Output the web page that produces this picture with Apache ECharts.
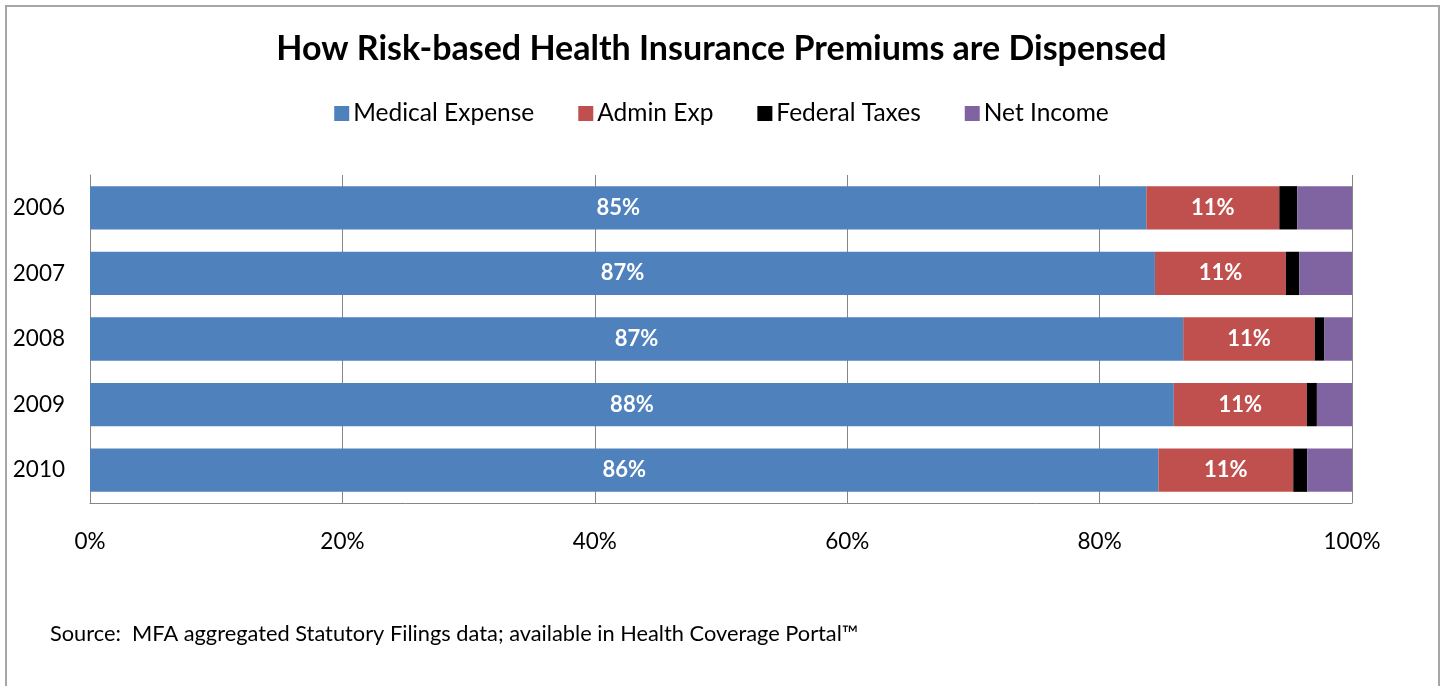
<!DOCTYPE html>
<html>
<head>
<meta charset="utf-8">
<script src="https://cdn.jsdelivr.net/npm/echarts@6/dist/echarts.min.js"></script>
<style>
  html, body { margin: 0; padding: 0; background: #fff; }
  #frame { position: absolute; left: 5px; top: 5px; width: 1431px; height: 720px; border: 2px solid #a6a6a6; }
  #main { position: absolute; left: 0; top: 0; width: 1443px; height: 686px; }
</style>
</head>
<body>
<div id="frame"></div>
<div id="main"></div>
<script>
var years = ['2006', '2007', '2008', '2009', '2010']
var seriesNames = ['Medical Expense', 'Admin Exp', 'Federal Taxes', 'Net Income']
// raw shares (% of premium), excel normalises them to 100%
var medical = [85, 87, 87.3, 88, 86]
var admin = [10.7, 10.7, 10.5, 10.8, 10.85]
var taxes = [1.45, 1.1, 0.78, 0.82, 1.13]
var netIncome = [4.4, 4.3, 2.2, 2.85, 3.6]
var xTicks = ['0%', '20%', '40%', '60%', '80%', '100%']
var colors = ['#4F81BD', '#C0504D', '#000000', '#8064A2']

var raw = [medical, admin, taxes, netIncome]
var totals = years.map(function (y, i) {
  return medical[i] + admin[i] + taxes[i] + netIncome[i]
})

var font = 'Lato, "Open Sans", sans-serif'
var chart = echarts.init(document.getElementById('main'))

var series = raw.map(function (arr, s) {
  return {
    name: seriesNames[s],
    type: 'bar',
    stack: 'total',
    barCategoryGap: '34%',
    itemStyle: { color: colors[s] },
    label: {
      show: s < 2,
      position: 'inside',
      color: '#fff',
      fontFamily: font,
      fontWeight: 'bold',
      fontSize: 22,
      formatter: function (p) {
        return Math.round(raw[s][p.dataIndex]) + '%'
      },
    },
    data: arr.map(function (v, i) {
      return (v / totals[i]) * 100
    }),
  }
})

var option = {
  animation: false,
  title: {
    text: 'How Risk-based Health Insurance Premiums are Dispensed',
    left: 'center',
    top: 27,
    textStyle: { fontFamily: font, fontSize: 34, fontWeight: 'bold', color: '#000' },
  },
  legend: {
    top: 96,
    left: 'center',
    itemWidth: 15,
    itemHeight: 15,
    itemGap: 44,
    icon: 'rect',
    textStyle: { fontFamily: font, fontSize: 24.5, color: '#000', padding: [0, 0, 0, -1] },
    data: seriesNames,
  },
  graphic: [
    {
      type: 'text',
      left: 50,
      top: 623,
      style: {
        text: 'Source:  MFA aggregated Statutory Filings data; available in Health Coverage Portal\u2122',
        font: '21.8px Lato, "Open Sans", sans-serif',
        fill: '#000',
      },
    },
  ],
  grid: { left: 90, right: 91, top: 175, bottom: 183 },
  xAxis: {
    type: 'value',
    min: 0,
    max: 100,
    interval: 20,
    axisLine: { show: true, lineStyle: { color: '#868686' } },
    axisTick: { show: false },
    splitLine: { show: true, lineStyle: { color: '#868686', width: 1 } },
    axisLabel: {
      margin: 27,
      fontFamily: font,
      fontSize: 22.5,
      color: '#000',
      formatter: function (v) {
        return xTicks[v / 20]
      },
    },
  },
  yAxis: {
    type: 'category',
    inverse: true,
    data: years,
    axisLine: { show: true, lineStyle: { color: '#868686' } },
    axisTick: { show: false },
    axisLabel: { margin: 25, fontFamily: font, fontSize: 22.5, color: '#000' },
  },
  series: series,
}
chart.setOption(option)
</script>
</body>
</html>
